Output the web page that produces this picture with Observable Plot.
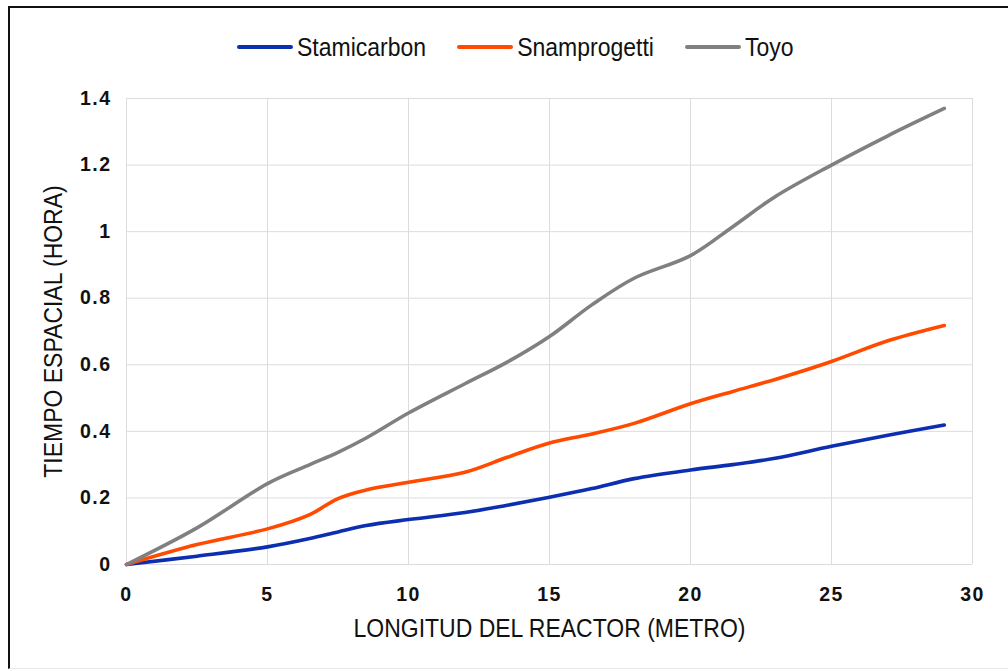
<!DOCTYPE html>
<html>
<head>
<meta charset="utf-8">
<script src="https://cdn.jsdelivr.net/npm/d3@7"></script>
<script src="https://cdn.jsdelivr.net/npm/@observablehq/plot@0.6"></script>
<style>
  html, body { margin: 0; padding: 0; background: #fff; }
  body { width: 1008px; height: 671px; position: relative; overflow: hidden; font-family: "Liberation Sans", Arial, sans-serif; }
  #frame { position: absolute; left: 8px; top: 6px; width: 1100px; height: 663px; border-left: 2.5px solid #111; border-top: 2px solid #111; border-bottom: 1px solid #e8e8e8; box-sizing: border-box; }
  #chart { position: absolute; left: 0; top: 0; }
  #legend { position: absolute; left: 237px; top: 33px; display: flex; align-items: center; height: 28px; }
  .item { display: flex; align-items: center; margin-right: 31px; }
  .swatch { width: 56px; height: 4px; border-radius: 2px; margin-right: 4px; }
  .lbl { font-size: 23px; color: #111; display: inline-block; transform: scaleY(1.15); line-height: 28px; }
</style>
</head>
<body>
<div id="frame"></div>
<div id="chart"></div>
<div id="legend"></div>
<script>
// Data
const longitud = [0, 2.5, 5, 6.5, 7.5, 8.5, 10, 12, 13.5, 15, 16.5, 18, 20, 21.5, 23, 25, 27, 29];
const stamicarbon = [0, 0.025, 0.053, 0.078, 0.098, 0.117, 0.135, 0.156, 0.178, 0.202, 0.228, 0.258, 0.284, 0.300, 0.319, 0.355, 0.388, 0.419];
const snamprogetti = [0, 0.060, 0.107, 0.150, 0.198, 0.224, 0.247, 0.277, 0.322, 0.365, 0.392, 0.424, 0.483, 0.520, 0.556, 0.610, 0.672, 0.718];
const toyo = [0, 0.110, 0.243, 0.300, 0.337, 0.380, 0.455, 0.543, 0.608, 0.685, 0.780, 0.860, 0.928, 1.015, 1.105, 1.200, 1.288, 1.370];
const seriesNames = ["Stamicarbon", "Snamprogetti", "Toyo"];
const seriesColors = ["#0b2fb0", "#ff4a00", "#808080"];
const xTicks = [0, 5, 10, 15, 20, 25, 30];
const yTicks = [0, 0.2, 0.4, 0.6, 0.8, 1, 1.2, 1.4];
const xLabel = "LONGITUD DEL REACTOR (METRO)";
const yLabel = "TIEMPO ESPACIAL (HORA)";

const seriesValues = [stamicarbon, snamprogetti, toyo];
const data = seriesNames.flatMap((name, i) =>
  longitud.map((x, j) => ({series: name, x, y: seriesValues[i][j]}))
);

const chart = Plot.plot({
  width: 1008,
  height: 671,
  marginLeft: 126,
  marginRight: 36,
  marginTop: 98,
  marginBottom: 107,
  style: {fontFamily: "'Liberation Sans', Arial, sans-serif", background: "transparent", color: "#111"},
  x: {domain: [0, 30]},
  y: {domain: [0, 1.4]},
  color: {domain: seriesNames, range: seriesColors},
  marks: [
    Plot.gridX(xTicks, {stroke: "#dcdcdc", strokeOpacity: 1, strokeWidth: 1}),
    Plot.gridY(yTicks, {stroke: "#dcdcdc", strokeOpacity: 1, strokeWidth: 1}),
    Plot.axisX({ticks: xTicks, tickSize: 0, tickPadding: 23, tickFormat: d => String(d),
      label: xLabel, labelAnchor: "center", labelOffset: 72, labelArrow: "none"}),
    Plot.axisY({ticks: yTicks, tickSize: 0, tickPadding: 15, tickFormat: d => String(d),
      label: yLabel, labelAnchor: "center", labelOffset: 82, labelArrow: "none"}),
    Plot.line(data, {x: "x", y: "y", stroke: "series", strokeWidth: 3.6, curve: "catmull-rom", strokeLinecap: "round"})
  ]
});

document.getElementById("chart").appendChild(chart);

const svg = d3.select(chart);
svg.selectAll('g[aria-label="x-axis tick label"], g[aria-label="y-axis tick label"]')
  .attr("font-size", 19.5).attr("font-weight", "bold").style("letter-spacing", "1.5px").attr("fill", "#111");
svg.selectAll('g[aria-label="x-axis label"], g[aria-label="y-axis label"]')
  .attr("font-size", 23).attr("fill", "#111")
  .selectAll("text").each(function() {
    const t = this.getAttribute("transform") || "";
    this.setAttribute("transform", t + " scale(1,1.1)");
  });

// Legend
const legend = d3.select("#legend");
seriesNames.forEach((name, i) => {
  const item = legend.append("div").attr("class", "item");
  item.append("div").attr("class", "swatch").style("background", seriesColors[i]);
  item.append("span").attr("class", "lbl").text(name);
});
</script>
</body>
</html>
